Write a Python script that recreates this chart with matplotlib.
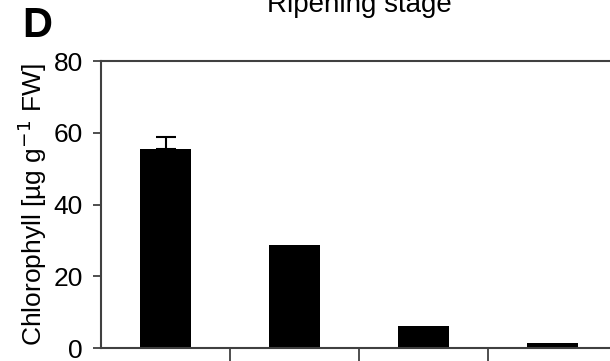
import matplotlib
matplotlib.use('Agg')
import matplotlib.pyplot as plt

plt.rcParams['font.family'] = ['Liberation Sans', 'DejaVu Sans']

# chlorophyll content over the ripening stages
stages = ['Green', 'Breaker', 'Turning', 'Red']
chl = [55.5, 28.8, 6.1, 1.3]
chl_err = [3.3, 0, 0, 0]

fig = plt.figure(figsize=(6.10, 3.61), dpi=100)
ax = fig.add_axes([0.1656, 0.036, 0.846, 0.795])

x = list(range(len(stages)))
ax.bar(x, chl, width=0.40, color='black', zorder=2)
ax.errorbar(x[:1], chl[:1], yerr=[[0], chl_err[:1]], fmt='none',
            ecolor='black', elinewidth=1.5, capsize=7.5, capthick=1.5, zorder=3)

ax.set_xlim(-0.5, len(stages) - 0.5)
ax.set_ylim(0, 80)
ax.set_yticks([0, 20, 40, 60, 80])
ax.set_xticks([0.5, 1.5, 2.5])
ax.set_xticklabels([])

for s in ax.spines.values():
    s.set_color('#404040')
    s.set_linewidth(1.5)
ax.tick_params(axis='y', direction='out', length=6, width=1.3, color='#404040',
               labelsize=19, pad=7)
ax.tick_params(axis='x', direction='out', length=14, width=1.3, color='#404040')

ax.set_ylabel('Chlorophyll [µg g$^{-1}$ FW]', fontsize=19, labelpad=3)
ax.set_title('Ripening stage', fontsize=20, pad=35)
fig.text(0.036, 0.872, 'D', fontsize=30, fontweight='bold', ha='left', va='bottom')

fig.savefig('out.png', dpi=100)
